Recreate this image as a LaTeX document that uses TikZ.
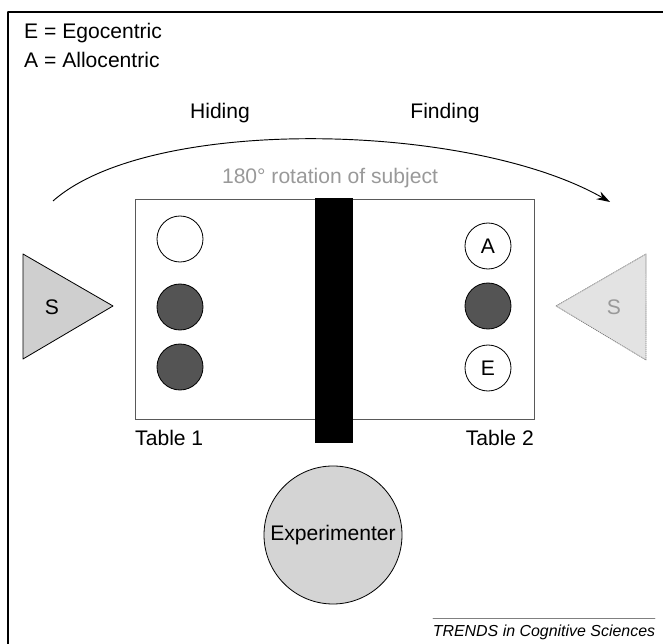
\documentclass[tikz,border=0pt]{standalone}
\usepackage{fontspec}
\setmainfont{Liberation Sans}
\usepackage{tikz}
\usepackage{tkz-euclide}
\usetikzlibrary{arrows.meta}
\definecolor{chipdark}{gray}{0.33}
\definecolor{subjgray}{gray}{0.81}
\definecolor{ghostgray}{gray}{0.89}
\definecolor{notegray}{gray}{0.6}
\definecolor{expgray}{gray}{0.83}
\tikzset{
  lbl/.style={font=\fontsize{18}{21}\selectfont, inner sep=0pt},
  chip/.style={circle, draw, line width=0.7pt, minimum size=1.38cm, inner sep=0pt, lbl},
}

\begin{document}
\begin{tikzpicture}
                        \useasboundingbox (0,0) rectangle (19.89,19.32);
                        \tkzDefPoints{0.24/18.96/TL, 19.89/18.96/TR, 0.24/0/BL}
                        \tkzDrawSegments[line width=1pt](TL,TR TL,BL)

                        \node[lbl, anchor=west] (ego) at (0.72,18.33) {E = Egocentric};
                        \node[lbl, anchor=west] (allo) at (0.72,17.52) {A = Allocentric};

                        \node[lbl] (hiding) at (6.6,15.93) {Hiding};
                        \node[lbl] (finding) at (13.35,15.93) {Finding};

                        \tkzDefPoint(1.59,13.29){R1}
                        \tkzDefPoint(18.3,13.26){R2}
                        \draw[line width=0.8pt, -{Stealth[length=0.4cm, width=0.26cm]}]
                            (R1) .. controls (4.5,15.87) and (14.1,15.66) .. (R2);
                        \node[lbl, text=notegray] (rot) at (9.9,13.98) {180° rotation of subject};

                        % the two tables and the screen between them
                        \tkzDefPoint(4.05,13.35){T1}
                        \tkzDefPoint(16.02,6.75){T2}
                        \draw[gray!70!black, line width=0.7pt] (T1) rectangle (T2);
                        \fill (9.45,13.38) rectangle (10.59,6.03);

                        \node[chip] (h1) at (5.4,12.15) {};
                        \node[chip, fill=chipdark] (h2) at (5.4,10.11) {};
                        \node[chip, fill=chipdark] (h3) at (5.4,8.31) {};

                        \node[chip] (fA) at (14.64,11.94) {A};
                        \node[chip, fill=chipdark] (f2) at (14.64,10.14) {};
                        \node[chip] (fE) at (14.64,8.28) {E};

                        \node[lbl, anchor=west] (tab1) at (4.05,6.18) {Table 1};
                        \node[lbl, anchor=east] (tab2) at (16.02,6.18) {Table 2};

                        % subject before and after rotation
                        \tkzDefPoint(0.69,11.7){S1}
                        \tkzDefPoint(0.69,8.55){S2}
                        \tkzDefPoint(3.39,10.14){S3}
                        \tkzDrawPolygon[line width=0.7pt, fill=subjgray](S1,S2,S3)
                        \node[lbl] (subj) at (1.56,10.11) {S};

                        \tkzDefPoint(16.68,10.14){G1}
                        \tkzDefPoint(19.38,11.7){G2}
                        \tkzDefPoint(19.38,8.52){G3}
                        \tkzDrawPolygon[line width=0.7pt, draw=gray, densely dotted, fill=ghostgray](G1,G2,G3)
                        \node[lbl, text=notegray] (ghost) at (18.42,10.11) {S};

                        \node[lbl, circle, draw, line width=0.7pt, fill=expgray, minimum size=4.14cm] (exp) at (9.99,3.27) {Experimenter};

                        \tkzDefPoints{12.99/0.78/C1, 19.65/0.78/C2}
                        \tkzDrawSegment[gray, line width=0.7pt](C1,C2)
                        \node[font=\fontsize{13.6}{16}\selectfont\itshape, inner sep=0pt] (credit) at (16.32,0.36) {TRENDS in Cognitive Sciences};
                    \end{tikzpicture}
\end{document}
